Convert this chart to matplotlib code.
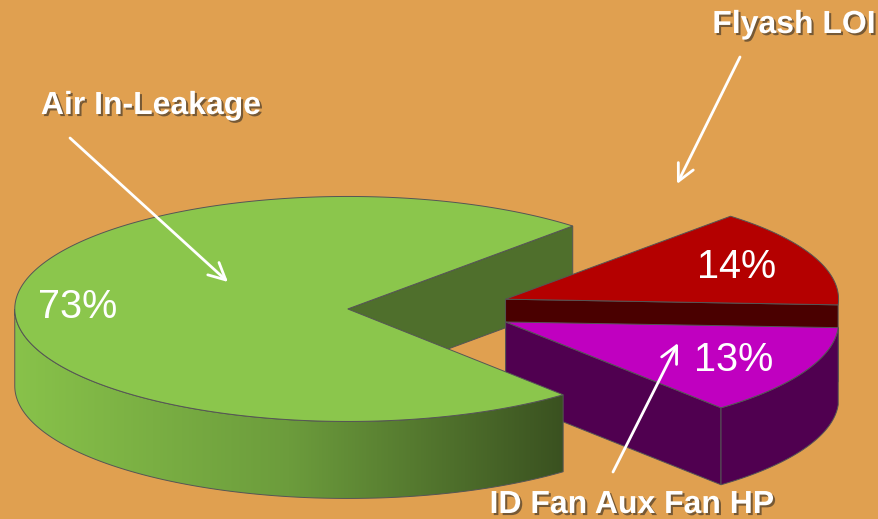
import numpy as np
import matplotlib
matplotlib.use('Agg')
import matplotlib.pyplot as plt
import matplotlib.patheffects as pe
from matplotlib.patches import Polygon
from matplotlib.colors import LinearSegmentedColormap

plt.rcParams['font.family'] = ['Liberation Sans', 'DejaVu Sans']

labels = ['Air In-Leakage', 'Flyash LOI', 'ID Fan Aux Fan HP']
shares = [73, 14, 13]
top_colors = ['#8bc64c', '#b40000', '#c000c0']
side_colors = ['#4f6f2c', '#4a0000', '#500050']
explode = [0.25, 0.242, 0.25]

# where the category names sit and where their arrows point (pixels)
label_pos = [(151, 114), (794, 33), (632, 513)]
arrow_from = [(70, 138), (740, 57), (613, 472)]
arrow_to = [(228, 282), (677, 184), (678, 343)]
pct_radius = [0.81, 0.75, 0.765]

BG = '#e0a050'
CX, CY = 431, 309.5      # pie centre
RX, RY = 333, 112.5      # ellipse radii of the tilted disc
DEPTH = 77
START = -49.7            # slices run clockwise from here
EDGE = '#555555'

fig = plt.figure(figsize=(8.79, 5.19), dpi=100, facecolor=BG)
ax = fig.add_axes([0, 0, 1, 1])
ax.set_facecolor(BG)


def rim(t, off, dz=0.0):
    r = np.radians(np.atleast_1d(t))
    return np.column_stack([CX + off[0] + RX * np.cos(r),
                            CY + off[1] - RY * np.sin(r) + dz])


green_side = LinearSegmentedColormap.from_list('gside', ['#88c24a', '#6c9c3c', '#3a5120'])

total = float(sum(shares))
slices = []
sides = []
cur = START
for i, v in enumerate(shares):
    span = v / total * 360.0
    hi, lo = cur, cur - span
    cur = lo
    mid = (lo + hi) / 2
    e = explode[i]
    off = (e * RX * np.cos(np.radians(mid)), -e * RY * np.sin(np.radians(mid)))
    tip = np.array([[CX + off[0], CY + off[1]]])
    slices.append((i, lo, hi, mid, off, tip))

    # radial cut faces that turn towards the viewer
    for a, visible in ((lo, np.cos(np.radians(lo)) > 0), (hi, np.cos(np.radians(hi)) < 0)):
        if not visible:
            continue
        top = np.vstack([tip, rim(a, off)])
        verts = np.vstack([top, top[::-1] + [0, DEPTH]])
        sides.append((top[:, 1].mean(), verts, side_colors[i], False))

    # front part of the curved wall (slivers of a few degrees are hidden anyway)
    for k in range(-3, 3):
        a0 = max(lo, 180 + 360 * k)
        a1 = min(hi, 360 + 360 * k)
        if a1 - a0 < 4:
            continue
        t = np.linspace(a0, a1, 200)
        top = rim(t, off)
        verts = np.vstack([top, rim(t[::-1], off, DEPTH)])
        sides.append((top[:, 1].mean(), verts, side_colors[i], i == 0))

z = 2
for _, verts, color, gradient in sorted(sides, key=lambda s: s[0]):
    if gradient:
        poly = Polygon(verts, closed=True, facecolor='none', edgecolor=EDGE, lw=0.7, zorder=z + 0.5)
        ax.add_patch(poly)
        x0, x1 = verts[:, 0].min(), verts[:, 0].max()
        y0, y1 = verts[:, 1].min(), verts[:, 1].max()
        img = ax.imshow(np.linspace(0, 1, 256)[None, :], cmap=green_side, aspect='auto',
                        extent=(x0, x1, y1, y0), zorder=z)
        img.set_clip_path(poly)
    else:
        ax.add_patch(Polygon(verts, closed=True, facecolor=color, edgecolor=EDGE, lw=0.7, zorder=z))
    z += 1

for i, lo, hi, mid, off, tip in slices:
    t = np.linspace(lo, hi, 300)
    verts = np.vstack([tip, rim(t, off)])
    ax.add_patch(Polygon(verts, closed=True, facecolor=top_colors[i], edgecolor=EDGE, lw=0.7, zorder=z))
    r = pct_radius[i]
    lx = tip[0, 0] + r * RX * np.cos(np.radians(mid))
    ly = tip[0, 1] - r * RY * np.sin(np.radians(mid))
    ax.text(lx, ly, f'{shares[i]}%', color='white', fontsize=28.5, ha='center', va='center',
            zorder=z + 5)

shadow = [pe.SimplePatchShadow(offset=(1.5, -1.5), shadow_rgbFace='#202020', alpha=0.55), pe.Normal()]
for name, (tx, ty), p0, p1 in zip(labels, label_pos, arrow_from, arrow_to):
    ax.text(tx, ty, name, color='white', fontsize=23, fontweight='bold', ha='center', va='baseline',
            path_effects=shadow, zorder=z + 6)
    ax.annotate('', xy=p1, xytext=p0, zorder=z + 6,
                arrowprops=dict(arrowstyle='->,head_length=0.6,head_width=0.3', color='white',
                                lw=2, mutation_scale=20, shrinkA=0, shrinkB=0))

ax.set_xlim(0, 879)
ax.set_ylim(519, 0)
ax.axis('off')
fig.savefig('out.png', dpi=100, facecolor=BG)
